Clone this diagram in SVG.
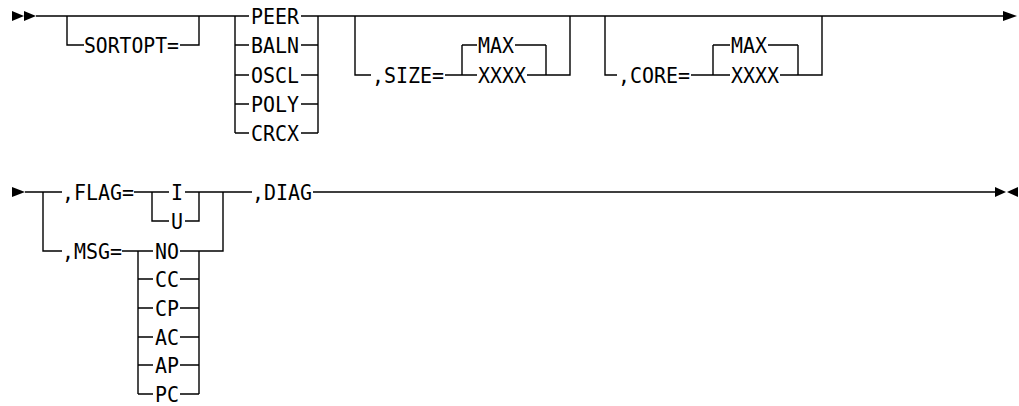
<svg xmlns="http://www.w3.org/2000/svg" width="1019" height="406" viewBox="0 0 1019 406">
<style>
.l{stroke:#000;stroke-width:1.4;fill:none}
text{font-family:"DejaVu Sans Mono","Liberation Mono",monospace;font-size:22px;fill:#000}
.a{fill:#000}
</style>
<rect width="1019" height="406" fill="#fff"/>
<g id="connectors">
<polygon class="a" points="12,11 24,16 12,21"/>
<polygon class="a" points="24,11 36,16 24,21"/>
<path class="l" d="M36,16H249M301,16H1004"/>
<polygon class="a" points="1003,11 1017,16 1003,21"/>
<path class="l" d="M67,16V45H84M180,45H199V16"/>
<path class="l" d="M235,16V133M235,45H249M235,75H249M235,104H249M235,133H249M301,45H318M301,75H318M301,104H318M301,133H318M318,16V133"/>
<path class="l" d="M355,16V75H371M445,75H462M462,45V75M462,45H477M462,75H477M515,45H546M527,75H546M546,45V75M546,75H570V16"/>
<path class="l" d="M605,16V75H617M691,75H713M713,45V75M713,45H730M713,75H730M768,45H798M780,75H798M798,45V75M798,75H822V16"/>
<polygon class="a" points="12,187 25,192 12,197"/>
<path class="l" d="M25,192H62M134,192H169M185,192H252M313,192H995"/>
<path class="l" d="M43,192V251H62M122,251H153M152,192V221H169M185,221H199V192M223,192V251H199"/>
<path class="l" d="M138,251V394M199,251V394M138,279H153M138,308H153M138,337H153M138,365H153M138,394H153M180,251H199M180,279H199M180,308H199M180,337H199M180,365H199M180,394H199"/>
<polygon class="a" points="995,187 1006,192 995,197"/>
<polygon class="a" points="1018,187 1007,192 1018,197"/>
</g>
<g id="sortopt"><text x="84" y="53" textLength="95" lengthAdjust="spacingAndGlyphs">SORTOPT=</text></g>
<g id="opt-peer"><text x="251" y="24" textLength="48" lengthAdjust="spacingAndGlyphs">PEER</text></g>
<g id="opt-baln"><text x="251" y="53" textLength="48" lengthAdjust="spacingAndGlyphs">BALN</text></g>
<g id="opt-oscl"><text x="251" y="83" textLength="48" lengthAdjust="spacingAndGlyphs">OSCL</text></g>
<g id="opt-poly"><text x="251" y="112" textLength="48" lengthAdjust="spacingAndGlyphs">POLY</text></g>
<g id="opt-crcx"><text x="251" y="141" textLength="48" lengthAdjust="spacingAndGlyphs">CRCX</text></g>
<g id="size"><text x="372" y="83" textLength="72" lengthAdjust="spacingAndGlyphs">,SIZE=</text></g>
<g id="size-max"><text x="478" y="53" textLength="36" lengthAdjust="spacingAndGlyphs">MAX</text></g>
<g id="size-xxxx"><text x="478" y="83" textLength="48" lengthAdjust="spacingAndGlyphs">XXXX</text></g>
<g id="core"><text x="618" y="83" textLength="72" lengthAdjust="spacingAndGlyphs">,CORE=</text></g>
<g id="core-max"><text x="731" y="53" textLength="36" lengthAdjust="spacingAndGlyphs">MAX</text></g>
<g id="core-xxxx"><text x="731" y="83" textLength="48" lengthAdjust="spacingAndGlyphs">XXXX</text></g>
<g id="flag"><text x="62" y="200" textLength="72" lengthAdjust="spacingAndGlyphs">,FLAG=</text></g>
<g id="flag-i"><text x="171" y="200" textLength="12" lengthAdjust="spacingAndGlyphs">I</text></g>
<g id="flag-u"><text x="171" y="229" textLength="12" lengthAdjust="spacingAndGlyphs">U</text></g>
<g id="msg"><text x="62" y="259" textLength="60" lengthAdjust="spacingAndGlyphs">,MSG=</text></g>
<g id="msg-no"><text x="155" y="259" textLength="24" lengthAdjust="spacingAndGlyphs">NO</text></g>
<g id="msg-cc"><text x="155" y="287" textLength="24" lengthAdjust="spacingAndGlyphs">CC</text></g>
<g id="msg-cp"><text x="155" y="316" textLength="24" lengthAdjust="spacingAndGlyphs">CP</text></g>
<g id="msg-ac"><text x="155" y="345" textLength="24" lengthAdjust="spacingAndGlyphs">AC</text></g>
<g id="msg-ap"><text x="155" y="373" textLength="24" lengthAdjust="spacingAndGlyphs">AP</text></g>
<g id="msg-pc"><text x="155" y="402" textLength="24" lengthAdjust="spacingAndGlyphs">PC</text></g>
<g id="diag"><text x="252" y="200" textLength="60" lengthAdjust="spacingAndGlyphs">,DIAG</text></g>
</svg>
